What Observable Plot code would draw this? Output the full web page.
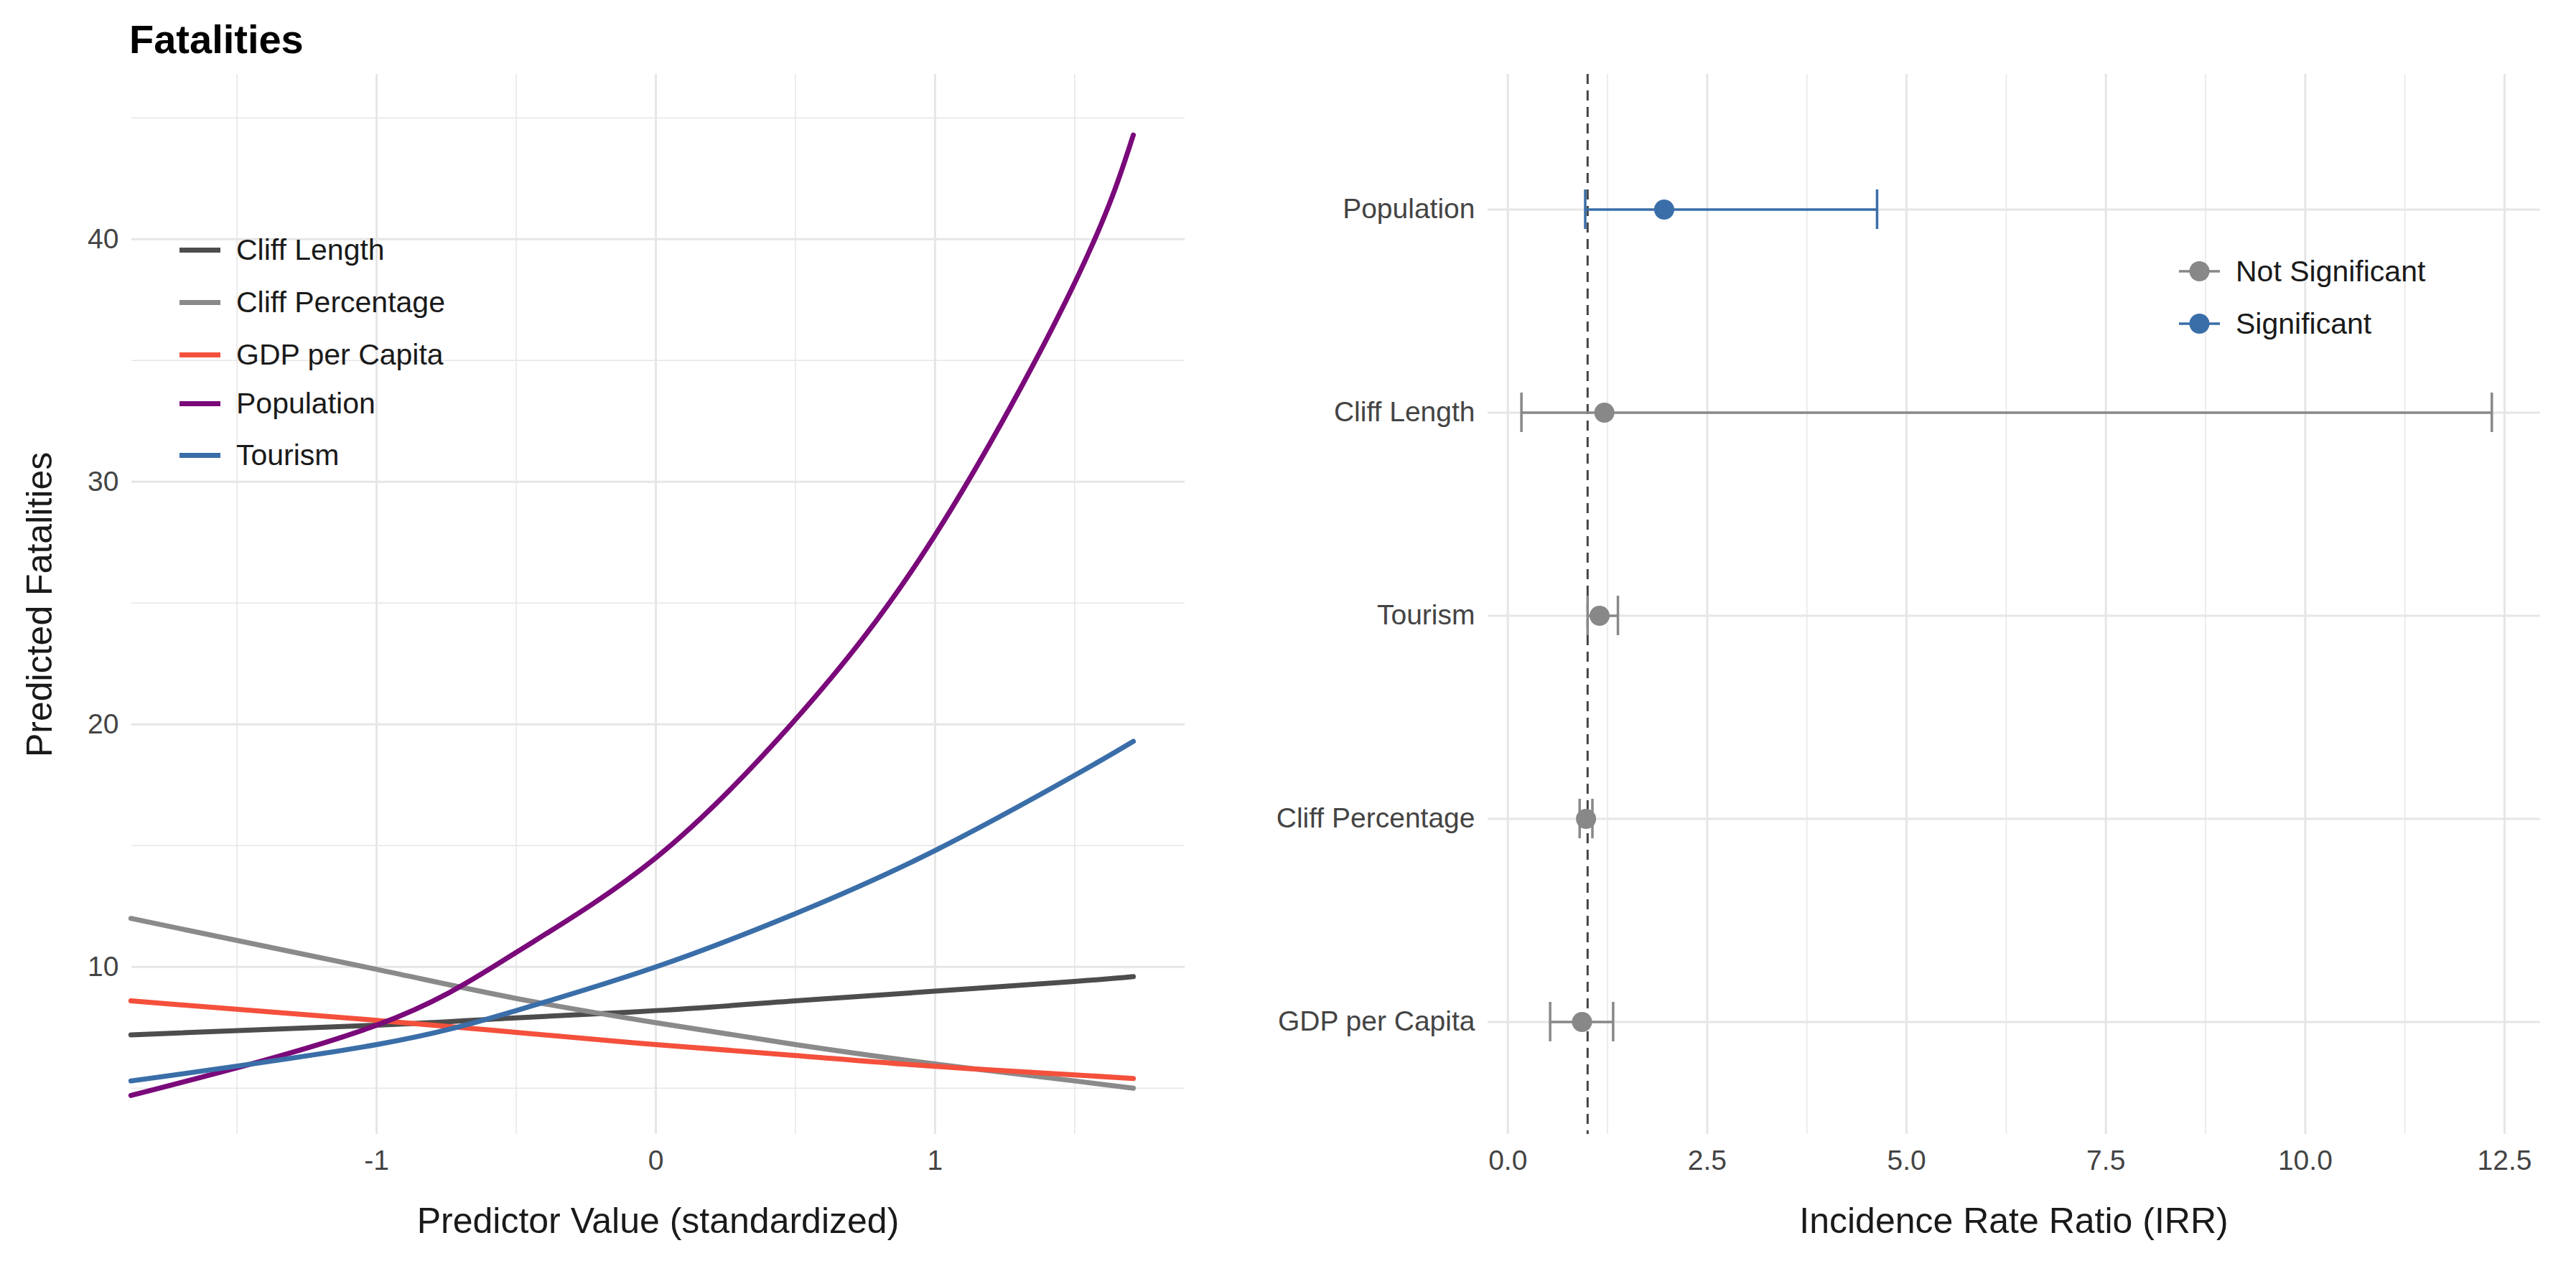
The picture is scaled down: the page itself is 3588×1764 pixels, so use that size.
<!DOCTYPE html>
<html><head><meta charset="utf-8">
<script src="https://cdn.jsdelivr.net/npm/d3@7"></script>
<script src="https://cdn.jsdelivr.net/npm/@observablehq/plot@0.6"></script>
<style>
body{margin:0;background:#fff;font-family:"Liberation Sans",Arial,sans-serif;}
#wrap{position:relative;width:3588px;height:1764px;}
.abs{position:absolute;}
.leg{font-size:41px;color:#1a1a1a;display:flex;align-items:center;height:72px;}
</style></head><body>
<div id="wrap"></div>
<script>
// Left panel: predicted fatalities vs standardized predictor
const xCurve = [-1.88, -1, -0.5, 0, 0.5, 1, 1.5, 1.71];
const seriesNames = ["Cliff Length","Cliff Percentage","GDP per Capita","Population","Tourism"];
const seriesColors = ["#4d4d4d","#8a8a8a","#f4503c","#7a097a","#3a6ea8"];
const cliffLength = [7.2, 7.6, 7.9, 8.2, 8.6, 9.0, 9.4, 9.6];
const cliffPct    = [12.0, 9.9, 8.7, 7.7, 6.8, 6.0, 5.3, 5.0];
const gdp         = [8.6, 7.8, 7.3, 6.8, 6.35, 5.9, 5.55, 5.4];
const population  = [4.7, 7.6, 10.6, 14.5, 20.2, 27.8, 38.2, 44.3];
const tourism     = [5.3, 6.8, 8.2, 10.0, 12.2, 14.8, 17.9, 19.3];
const seriesValues = [cliffLength, cliffPct, gdp, population, tourism];

// Right panel: IRR estimates with CI
const predictors = ["Population","Cliff Length","Tourism","Cliff Percentage","GDP per Capita"];
const irr   = [1.96, 1.21, 1.15, 0.98, 0.93];
const lower = [0.97, 0.17, 1.00, 0.90, 0.53];
const upper = [4.63, 12.34, 1.38, 1.06, 1.32];
const significant = [true, false, false, false, false];

const curveData = [];
seriesNames.forEach((s,i)=>xCurve.forEach((x,j)=>curveData.push({series:s,x,y:seriesValues[i][j]})));
const irrData = predictors.map((p,i)=>({p,irr:irr[i],lo:lower[i],hi:upper[i],sig:significant[i]?"Significant":"Not Significant"}));

const wrap = document.getElementById("wrap");
const font = '"Liberation Sans",Arial,sans-serif';
const grid = "#e6e6e6";

const left = Plot.plot({
  width:1680, height:1764, marginLeft:183, marginRight:30, marginTop:103, marginBottom:184,
  style:{fontFamily:font, fontSize:"39px", color:"#444", background:"transparent"},
  x:{domain:[-1.877,1.895]},
  y:{domain:[3.1,46.8]},
  color:{domain:seriesNames, range:seriesColors},
  marks:[
    Plot.ruleX([-1.5,-0.5,0.5,1.5],{stroke:grid,strokeWidth:1.5}),
    Plot.ruleY([5,15,25,35,45],{stroke:grid,strokeWidth:1.5}),
    Plot.ruleX([-1,0,1],{stroke:grid,strokeWidth:3}),
    Plot.ruleY([10,20,30,40],{stroke:grid,strokeWidth:3}),
    Plot.axisX({ticks:[-1,0,1],tickFormat:d=>String(d),tickSize:0,tickPadding:22,label:null,fontSize:39}),
    Plot.axisY({ticks:[10,20,30,40],tickSize:0,tickPadding:18,label:null,fontSize:39}),
    Plot.line(curveData,{x:"x",y:"y",z:"series",stroke:"series",strokeWidth:7,curve:"natural"})
  ]
});
left.classList.add("abs"); left.style.left="0px"; left.style.top="0px";
wrap.appendChild(left);

const colSig = {"Significant":"#3a6ea8","Not Significant":"#888888"};
const right = Plot.plot({
  width:1908, height:1764, marginLeft:392, marginRight:50, marginTop:103, marginBottom:184,
  style:{fontFamily:font, fontSize:"39px", color:"#444", background:"transparent"},
  x:{domain:[-0.25,12.95]},
  y:{type:"band", domain:predictors, range:[149,1566], padding:0},
  marks:[
    Plot.ruleX([1.25,3.75,6.25,8.75,11.25],{stroke:grid,strokeWidth:1.5}),
    Plot.ruleX([0,2.5,5,7.5,10,12.5],{stroke:grid,strokeWidth:3}),
    Plot.ruleY(predictors,{y:d=>d,stroke:grid,strokeWidth:3}),
    Plot.axisX({ticks:[0,2.5,5,7.5,10,12.5],tickFormat:d3.format(".1f"),tickSize:0,tickPadding:22,label:null,fontSize:39}),
    Plot.axisY({tickSize:0,tickPadding:18,label:null,fontSize:39}),
    Plot.ruleX([1],{stroke:"#444",strokeWidth:3,strokeDasharray:"14,9"}),
    Plot.ruleY(irrData,{y:"p",x1:"lo",x2:"hi",stroke:d=>colSig[d.sig],strokeWidth:3.5}),
    Plot.tickX(irrData,{y:"p",x:"lo",stroke:d=>colSig[d.sig],strokeWidth:3.5,insetTop:114,insetBottom:114}),
    Plot.tickX(irrData,{y:"p",x:"hi",stroke:d=>colSig[d.sig],strokeWidth:3.5,insetTop:114,insetBottom:114}),
    Plot.dot(irrData,{y:"p",x:"irr",fill:d=>colSig[d.sig],r:14})
  ]
});
right.classList.add("abs"); right.style.left="1680px"; right.style.top="0px";
wrap.appendChild(right);

function addText(txt, x, y, css){
  const d=document.createElement("div"); d.className="abs"; d.textContent=txt;
  d.style.left=x+"px"; d.style.top=y+"px"; Object.assign(d.style,css||{}); wrap.appendChild(d); return d;
}
addText("Fatalities",180,22,{fontSize:"56px",fontWeight:"bold",color:"#000"});
addText("Predictor Value (standardized)",0,1672,{width:(183+1650)+"px",textAlign:"center",fontSize:"50px",color:"#1a1a1a"});
addText("Incidence Rate Ratio (IRR)",2072,1672,{width:(3538-2072)+"px",textAlign:"center",fontSize:"50px",color:"#1a1a1a"});
const yl=addText("Predicted Fatalities",0,0,{fontSize:"50px",color:"#1a1a1a",whiteSpace:"nowrap"});
yl.style.transformOrigin="0 0"; yl.style.transform="rotate(-90deg)";
yl.style.left="26px"; yl.style.top=(842+yl.offsetWidth/2)+"px";

// Left legend
const legTop=[348,421,494,562,634];
seriesNames.forEach((s,i)=>{
  const d=document.createElement("div"); d.className="abs leg";
  d.style.left="250px"; d.style.top=(legTop[i]-36)+"px";
  d.innerHTML=`<span style="display:inline-block;width:57px;height:7px;background:${seriesColors[i]};margin-right:22px"></span>${s}`;
  wrap.appendChild(d);
});
// Right legend
[["Not Significant",378],["Significant",451]].forEach(([s,y])=>{
  const d=document.createElement("div"); d.className="abs leg";
  d.style.left="3035px"; d.style.top=(y-36)+"px";
  d.innerHTML=`<svg width="57" height="40" style="margin-right:22px"><line x1="0" y1="20" x2="57" y2="20" stroke="${colSig[s]}" stroke-width="3.5"/><circle cx="28.5" cy="20" r="14" fill="${colSig[s]}"/></svg>${s}`;
  wrap.appendChild(d);
});
</script>
</body></html>
